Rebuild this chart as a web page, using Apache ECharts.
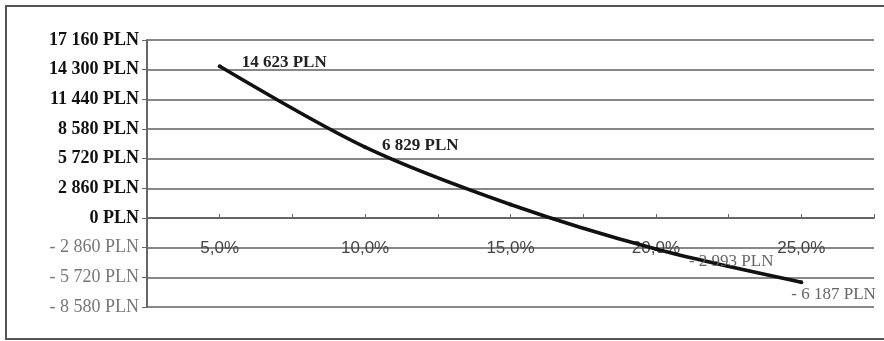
<!DOCTYPE html>
<html>
<head>
<meta charset="utf-8">
<title>NPV PLN</title>
<script src="https://cdn.jsdelivr.net/npm/echarts@6/dist/echarts.min.js"></script>
<style>
  html, body { margin: 0; padding: 0; background: #fff; }
  #chart { width: 884px; height: 341px; }
</style>
</head>
<body>
<div id="chart"></div>
<script>
// Discount rates (%) and the resulting net present value (PLN)
const rates = [5, 10, 15, 20, 25];
const npvValues = [14623, 6829, 1300, -2993, -6187];
// Which points carry a value label
const labelled = [true, true, false, true, true];

// Value axis range and step (PLN)
const yMin = -8580;
const yMax = 17160;
const yStep = 2860;

// Rate axis range and step (%)
const xMin = 2.5;
const xMax = 27.5;
const xStep = 2.5;

const serif = "'Liberation Serif', 'Times New Roman', serif";
const sans = "'Liberation Sans', Arial, sans-serif";

function groupDigits(n) {
  return String(Math.round(Math.abs(n))).replace(/\B(?=(\d{3})+(?!\d))/g, ' ');
}
function pln(v) {
  return (v < 0 ? '- ' : '') + groupDigits(v) + ' PLN';
}

// Offsets of each value label from its point
const labelOffsets = [[22, -4], [17, -2], [0, 0], [33, 12], [-10, 12]];

const seriesData = rates.map((r, i) => {
  const v = npvValues[i];
  return {
    value: [r, v],
    label: {
      show: labelled[i],
      position: 'inside',
      align: 'left',
      verticalAlign: 'middle',
      offset: labelOffsets[i],
      formatter: pln(v),
      fontFamily: serif,
      fontSize: 17,
      fontWeight: v < 0 ? 'normal' : 'bold',
      color: v < 0 ? '#666' : '#222'
    }
  };
});

const chart = echarts.init(document.getElementById('chart'), null, { renderer: 'canvas' });

chart.setOption({
  animation: false,
  backgroundColor: '#fff',
  graphic: [{
    type: 'rect',
    shape: { x: 6, y: 6, width: 884, height: 333 },
    style: { fill: 'none', stroke: '#555', lineWidth: 2 },
    silent: true,
    z: -1
  }],
  grid: { left: 147, right: 10, top: 40, bottom: 34, containLabel: false },
  xAxis: {
    type: 'value',
    min: xMin,
    max: xMax,
    interval: xStep,
    axisLine: { onZero: true, lineStyle: { color: '#666', width: 2 } },
    axisTick: { show: true, inside: true, length: 4, lineStyle: { color: '#666', width: 1 } },
    splitLine: { show: false },
    axisLabel: {
      // rate labels sit just under the zero line
      margin: -67,
      fontFamily: sans,
      fontSize: 17,
      color: '#444',
      showMinLabel: true,
      showMaxLabel: true,
      formatter: v => (Math.abs(v % 5) < 1e-9 ? v.toFixed(1).replace('.', ',') + '%' : '')
    }
  },
  yAxis: {
    type: 'value',
    min: yMin,
    max: yMax,
    interval: yStep,
    axisLine: { show: true, onZero: false, lineStyle: { color: '#666', width: 2 } },
    axisTick: { show: true, length: 5, lineStyle: { color: '#666', width: 1 } },
    splitLine: { show: true, lineStyle: { color: '#888', width: 2 } },
    axisLabel: {
      margin: 8,
      formatter: v => (v < 0 ? '{n|' + pln(v) + '}' : '{p|' + pln(v) + '}'),
      rich: {
        p: { fontFamily: serif, fontSize: 18, fontWeight: 'bold', color: '#111' },
        n: { fontFamily: serif, fontSize: 18, fontWeight: 'normal', color: '#777' }
      }
    }
  },
  series: [{
    type: 'line',
    data: seriesData,
    smooth: 0.3,
    symbol: 'circle',
    symbolSize: 4,
    showSymbol: true,
    lineStyle: { color: '#111', width: 3.5 },
    itemStyle: { color: '#111' },
    z: 5
  }]
});
</script>
</body>
</html>
